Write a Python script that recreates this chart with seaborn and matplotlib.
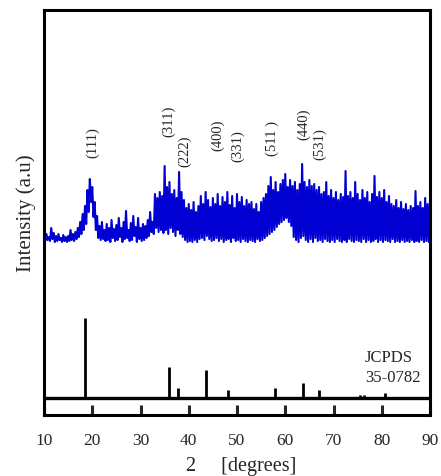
import numpy as np
import pandas as pd
import matplotlib
matplotlib.use("Agg")
import matplotlib.pyplot as plt
import seaborn as sns

# ---- data ----
two_theta_start, two_theta_step = 10.0, 0.25
intensity = [
    6, 1, 8, 2, 5, 1, 14, 3, 9, 0, 6, 1, 8, 2, 4, 0, 7, 1, 5, 0,
    6, 1, 12, 2, 8, 1, 10, 3, 14, 5, 20, 8, 28, 12, 36, 18, 52, 30, 63, 40,
    55, 25, 40, 12, 26, 4, 16, 2, 20, 3, 12, 1, 18, 2, 14, 0, 22, 4, 13, 1,
    17, 2, 24, 5, 14, 0, 20, 3, 31, 4, 12, 1, 19, 2, 26, 6, 15, 0, 24, 3,
    14, 1, 18, 2, 16, 4, 22, 6, 30, 10, 20, 8, 48, 14, 44, 10, 50, 12, 46, 9,
    76, 12, 55, 8, 60, 14, 48, 10, 52, 6, 44, 12, 70, 8, 50, 5, 42, 2, 34, 0,
    38, 1, 32, 0, 40, 2, 30, 0, 36, 3, 46, 4, 38, 2, 50, 6, 42, 3, 35, 1,
    44, 2, 38, 4, 48, 1, 36, 3, 45, 0, 40, 2, 50, 3, 37, 0, 46, 4, 34, 1,
    48, 2, 40, 0, 45, 3, 36, 1, 42, 0, 38, 2, 40, 1, 33, 0, 38, 3, 30, 1,
    40, 2, 44, 4, 48, 6, 56, 8, 65, 10, 52, 12, 60, 15, 50, 18, 58, 20, 62, 22,
    68, 24, 55, 20, 62, 16, 56, 5, 60, 2, 52, 0, 58, 4, 78, 6, 60, 2, 55, 0,
    62, 3, 56, 0, 58, 4, 52, 1, 55, 2, 48, 0, 50, 3, 60, 1, 46, 0, 52, 2,
    44, 0, 50, 3, 42, 1, 48, 0, 45, 2, 71, 0, 46, 3, 50, 1, 44, 0, 60, 2,
    48, 1, 42, 0, 52, 3, 44, 0, 50, 2, 40, 0, 48, 1, 66, 3, 45, 0, 50, 2,
    44, 0, 52, 2, 40, 1, 46, 0, 38, 3, 36, 0, 42, 1, 34, 0, 40, 2, 33, 0,
    38, 1, 32, 0, 36, 2, 34, 0, 51, 1, 36, 0, 40, 2, 34, 0, 44, 1, 38, 0, 41,
]
two_theta = [two_theta_start + two_theta_step * i for i in range(len(intensity))]

ref_positions = [18.4, 35.9, 37.7, 43.6, 48.1, 57.9, 63.7, 67.0, 75.4, 76.4, 80.6]
ref_heights = [80, 31, 10, 28, 8, 10, 15, 8, 3, 3, 5]

hkl_labels = ["(111)", "(311)", "(222)", "(400)", "(331)", "(511 )", "(440)", "(531)"]
hkl_x = [20.1, 35.8, 39.1, 46.0, 50.2, 57.3, 63.8, 67.1]
hkl_y = [273, 295, 265, 281, 270, 277, 292, 272]

x_ticks = [10, 20, 30, 40, 50, 60, 70, 80, 90]

# offsets (vertical stacking of the two patterns)
ref_base = 17
xrd_base = 173

# ---- plot ----
sns.set_style("white")
plt.rcParams["font.family"] = ["Liberation Serif", "DejaVu Serif"]

fig = plt.figure(figsize=(4.41, 4.77), dpi=100)
ax = fig.add_axes([44 / 441, 1 - 416 / 477, (430 - 44) / 441, (416 - 11) / 477])

df = pd.DataFrame({"two_theta": two_theta,
                   "intensity": np.array(intensity) + xrd_base})
sns.lineplot(data=df, x="two_theta", y="intensity", ax=ax,
             color="#0000d2", linewidth=1.5, estimator=None, sort=False)

ax.vlines(ref_positions, ref_base, np.array(ref_heights) + ref_base,
          color="black", linewidth=2.0)
ax.axhline(ref_base, color="black", linewidth=2.4)

for lab, xx, yy in zip(hkl_labels, hkl_x, hkl_y):
    ax.text(xx, yy, lab, rotation=90, ha="center", va="center", fontsize=10.5)

ax.text(76.5, 58, "JCPDS", ha="left", va="center", fontsize=12)
ax.text(76.5, 38, "35-0782", ha="left", va="center", fontsize=12)

ax.set_xlim(10, 90)
ax.set_ylim(0, 405)
ax.set_xticks(x_ticks)
ax.set_xticklabels([str(t) for t in x_ticks], fontsize=12.5)
ax.set_yticks([])
ax.tick_params(axis="x", direction="in", length=7, width=2.2, pad=12,
               bottom=True, top=False)
for s in ax.spines.values():
    s.set_linewidth(2.2)
    s.set_color("black")

ax.set_xlabel("2     [degrees]", fontsize=14.5)
ax.xaxis.set_label_coords(0.51, -0.102)
ax.set_ylabel("Intensity (a.u)", fontsize=15, labelpad=6)

fig.savefig("out.png", dpi=100)
